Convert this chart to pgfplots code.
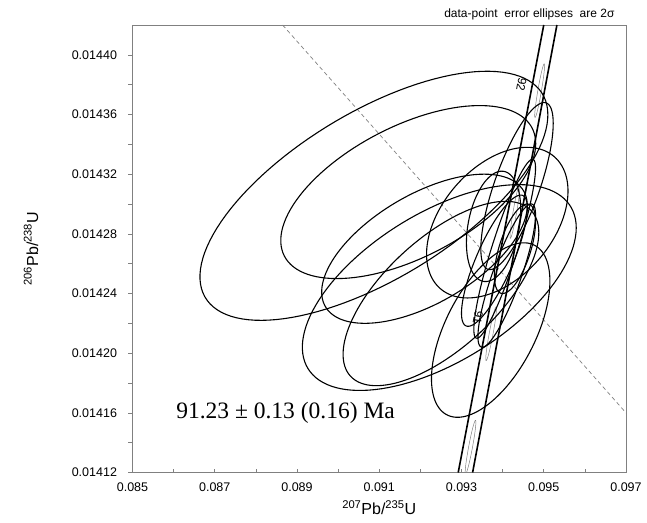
\documentclass[border=0pt]{standalone}
\usepackage{fontspec}
\setmainfont{Liberation Sans}
\newfontfamily\timesfont{Liberation Serif}
\usepackage{pgfplots}
\usepackage{pgfplotstable}
\pgfplotsset{compat=1.18}

% data-point error ellipses: centre, 2-sigma half widths, error correlation
\pgfplotstableread{
x        ex       y          ey         rho
0.09087  0.00423  0.0143055  0.0000835  0.65
0.091705 0.00310  0.014308   0.000058   0.56
0.09210  0.00250  0.014270   0.000050   0.58
0.09246  0.00333  0.014244   0.000069   0.58
0.09250  0.00238  0.014240   0.0000618  0.66
0.09371  0.00144  0.0142155  0.0000585  0.56
0.09387  0.00172  0.0142875  0.0000505  0.42
0.09435  0.00088  0.014312   0.000056   0.75
0.09378  0.00066  0.014285   0.000037   0.30
0.09380  0.00080  0.014262   0.000044   0.80
0.09410  0.00070  0.014252   0.000048   0.85
0.09430  0.00050  0.014270   0.000030   0.60
0.09405  0.00075  0.014270   0.000060   0.90
}\ellipses

% concordia age markers (90.5, 91, 91.5, 92 Ma)
\pgfplotstableread{
x        ex       y          ey         rho
0.09322  0.00013  0.014137   0.000018   0.93
0.09372  0.00013  0.014213   0.000018   0.93
0.09430  0.00012  0.014295   0.000018   0.93
0.09490  0.00012  0.014376   0.000018   0.93
}\markers

\newcommand\drawellipses[2]{%
  \pgfplotstablegetrowsof{#1}%
  \pgfmathtruncatemacro{\nlast}{\pgfplotsretval-1}%
  \pgfplotsforeachungrouped \i in {0,...,\nlast}{%
    \pgfplotstablegetelem{\i}{x}\of#1\let\cx\pgfplotsretval
    \pgfplotstablegetelem{\i}{ex}\of#1\let\ex\pgfplotsretval
    \pgfplotstablegetelem{\i}{y}\of#1\let\cy\pgfplotsretval
    \pgfplotstablegetelem{\i}{ey}\of#1\let\ey\pgfplotsretval
    \pgfplotstablegetelem{\i}{rho}\of#1\let\rr\pgfplotsretval
    \edef\doplot{\noexpand\addplot[#2, domain=0:360, samples=120, variable=\noexpand\t]
      ({\cx+\ex*cos(\noexpand\t)}, {\cy+\ey*cos(\noexpand\t-acos(\rr))});}%
    \doplot
  }%
}

\begin{document}
\begin{tikzpicture}
\begin{axis}[
    scale only axis,
    width=493.5pt, height=447.5pt,
    xmin=0.085, xmax=0.097,
    ymin=0.01412, ymax=0.01442,
    scaled ticks=false,
    axis line style={gray, line width=0.8pt},
    xtick={0.085,0.087,0.089,0.091,0.093,0.095,0.097},
    xticklabels={0.085,0.087,0.089,0.091,0.093,0.095,0.097},
    minor xtick={0.086,0.088,0.090,0.092,0.094,0.096},
    ytick={0.01412,0.01416,0.01420,0.01424,0.01428,0.01432,0.01436,0.01440},
    yticklabels={0.01412,0.01416,0.01420,0.01424,0.01428,0.01432,0.01436,0.01440},
    minor ytick={0.01414,0.01418,0.01422,0.01426,0.01430,0.01434,0.01438},
    xtick pos=left, ytick pos=left,
    tick align=outside,
    major tick length=4pt, minor tick length=4pt,
    tick style={gray, line width=0.6pt},
    xtick style={yshift=4pt},
    ticklabel style={font=\fontsize{12.5}{14}\selectfont},
    yticklabel style={xshift=-8pt},
    xticklabel style={yshift=-3pt},
    xlabel={\textsuperscript{207}Pb/\textsuperscript{235}U},
    ylabel={\textsuperscript{206}Pb/\textsuperscript{238}U},
    label style={font=\fontsize{16}{18}\selectfont},
    xlabel style={at={(axis description cs:0.5,-0.0793)}, anchor=center},
    ylabel style={at={(axis description cs:-0.2056,0.5)}, anchor=center},
    ell/.style={black, line width=1.1pt, line join=round},
    mark/.style={gray, line width=0.5pt},
]
\addplot[gray, dash pattern=on 4pt off 3pt, line width=0.7pt]
  coordinates {(0.08865,0.01442) (0.097,0.01416)};
\drawellipses{\markers}{mark}
\drawellipses{\ellipses}{ell}
\addplot[black, line width=1.6pt] coordinates {(0.09292,0.01412) (0.09500,0.01442)};
\addplot[black, line width=1.6pt] coordinates {(0.09327,0.01412) (0.09532,0.01442)};
\node[rotate=-100, font=\fontsize{12}{14}\selectfont] at (axis cs:0.09446,0.014380) {92};
\node[rotate=-100, font=\fontsize{12}{14}\selectfont] at (axis cs:0.09340,0.014224) {91};
\node[anchor=west, font=\timesfont\fontsize{23.5}{26}\selectfont]
  at (axis cs:0.08598,0.01416) {91.23 ± 0.13 (0.16) Ma};
\end{axis}
\node[anchor=east, font=\fontsize{12}{14}\selectfont] at (485.5pt,458pt)
  {data-point\ \ error ellipses\ \ are 2σ};
\pgfresetboundingbox
\path (-132.5pt,-49.5pt) rectangle (514.5pt,472.5pt);
\end{tikzpicture}
\end{document}
